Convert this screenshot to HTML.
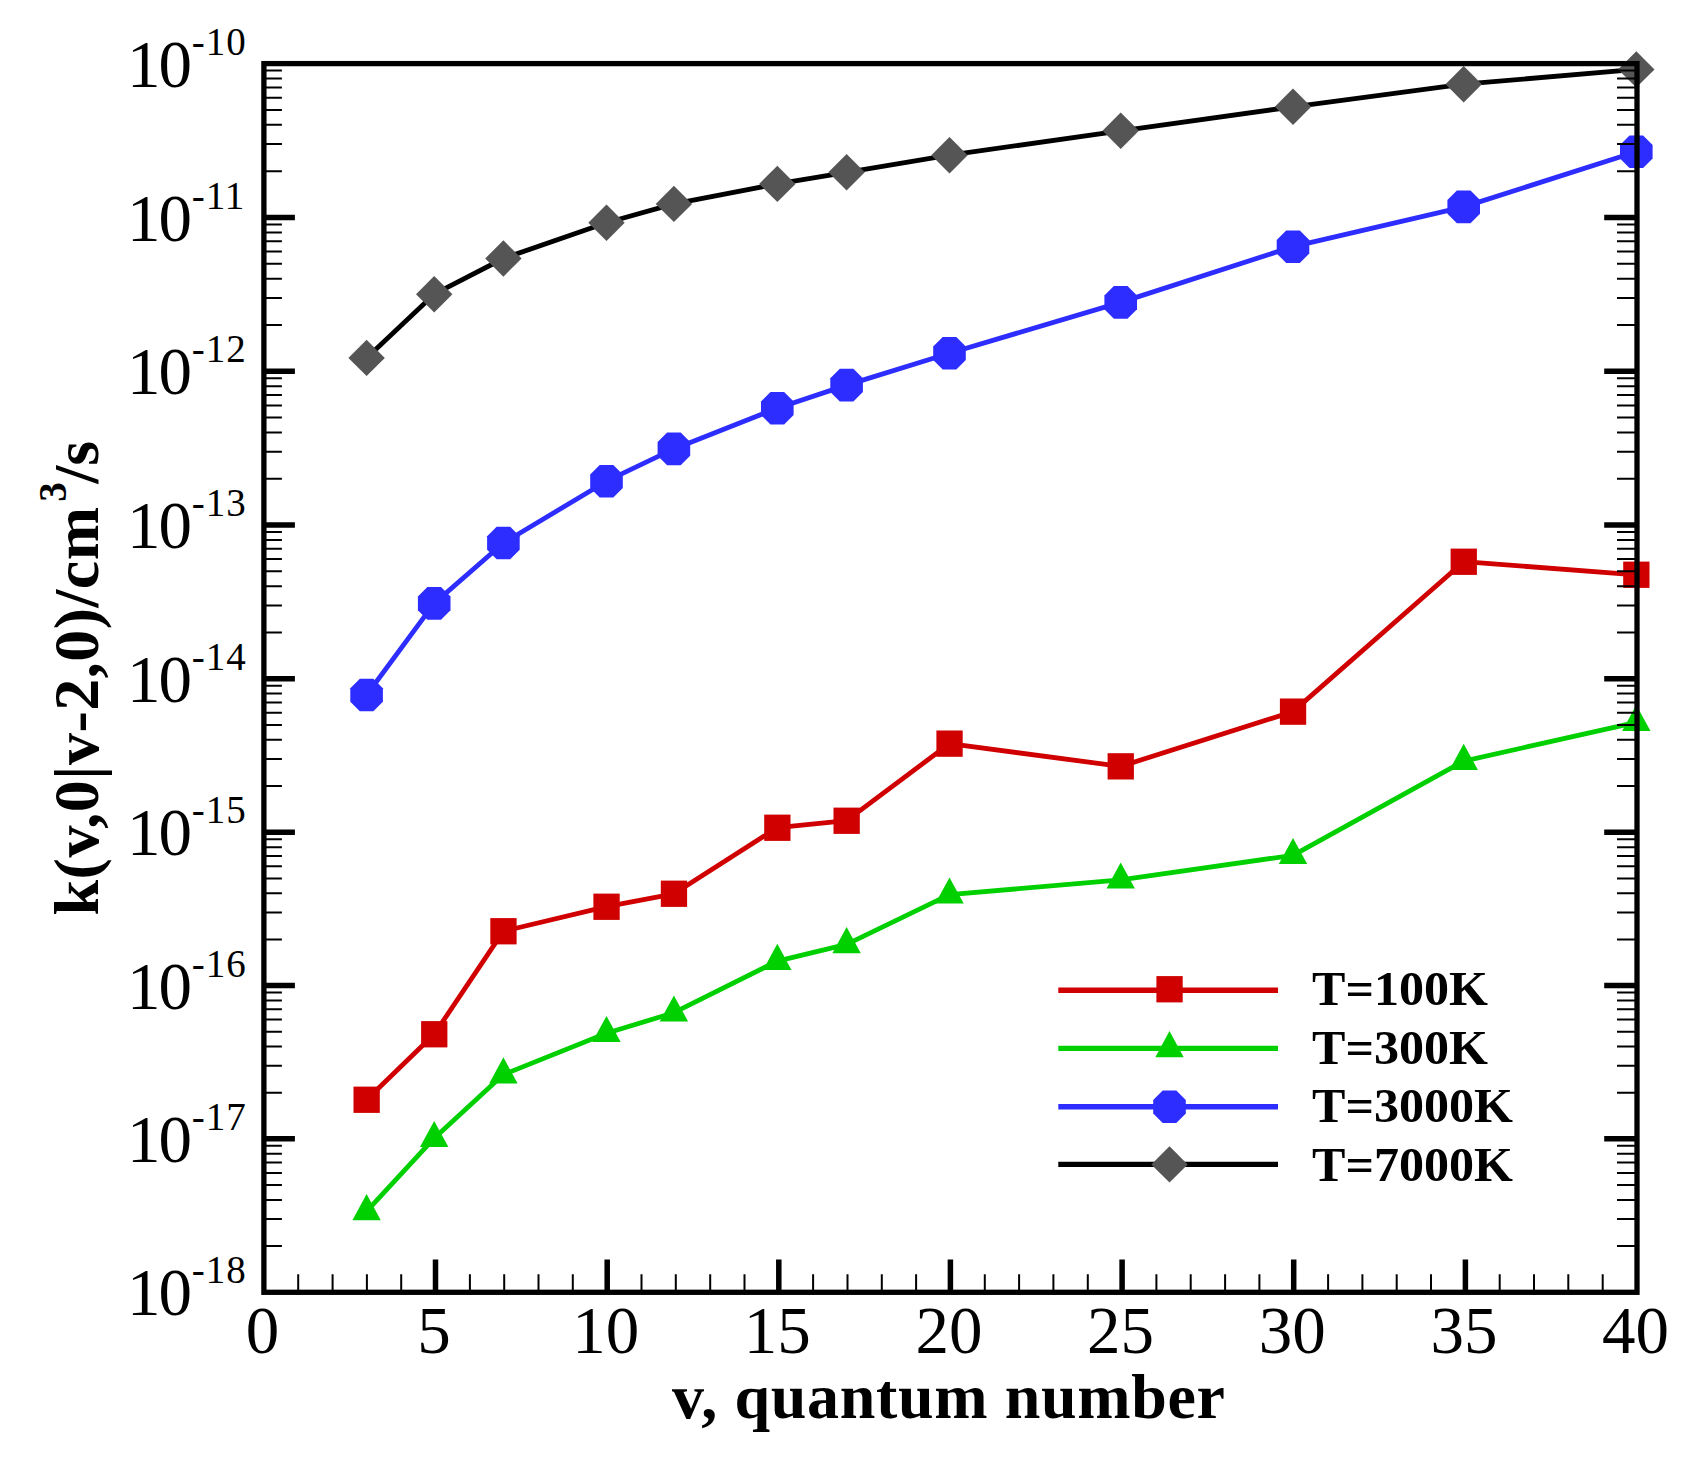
<!DOCTYPE html>
<html><head><meta charset="utf-8"><title>k(v,0|v-2,0) rate coefficients</title>
<style>html,body{margin:0;padding:0;background:#fff}svg{display:block}text{font-family:"Liberation Serif","Times New Roman",serif;fill:#000}.b{font-weight:bold}</style></head><body>
<svg width="1691" height="1473" viewBox="0 0 1691 1473">
<rect width="1691" height="1473" fill="#fff"/>
<g id="series" fill="none" stroke-linejoin="round">
<polyline points="366.6,1099.8 434.2,1034.3 503.4,931.2 606.5,906.7 673.9,893.8 777.3,827.7 846.6,820.7 949.5,743.6 1120.7,766.4 1293.0,711.6 1463.7,561.7 1636.3,574.8" stroke="#d00000" stroke-width="4.8"/>
<rect x="353.5" y="1086.6" width="26.3" height="26.3" fill="#d00000"/>
<rect x="421.1" y="1021.1" width="26.3" height="26.3" fill="#d00000"/>
<rect x="490.3" y="918.1" width="26.3" height="26.3" fill="#d00000"/>
<rect x="593.4" y="893.6" width="26.3" height="26.3" fill="#d00000"/>
<rect x="660.8" y="880.6" width="26.3" height="26.3" fill="#d00000"/>
<rect x="764.2" y="814.6" width="26.3" height="26.3" fill="#d00000"/>
<rect x="833.5" y="807.6" width="26.3" height="26.3" fill="#d00000"/>
<rect x="936.4" y="730.5" width="26.3" height="26.3" fill="#d00000"/>
<rect x="1107.6" y="753.2" width="26.3" height="26.3" fill="#d00000"/>
<rect x="1279.9" y="698.5" width="26.3" height="26.3" fill="#d00000"/>
<rect x="1450.6" y="548.6" width="26.3" height="26.3" fill="#d00000"/>
<rect x="1623.2" y="561.6" width="26.3" height="26.3" fill="#d00000"/>
<polyline points="366.6,1211.4 434.2,1138.2 503.4,1074.6 606.5,1033.3 673.9,1012.7 777.3,961.1 846.6,944.4 949.5,894.7 1120.7,879.8 1293.0,855.3 1463.7,761.1 1636.3,722.3" stroke="#00d000" stroke-width="4.8"/>
<polygon points="366.6,1194.1 380.8,1220.2 352.4,1220.2" fill="#00d000"/>
<polygon points="434.2,1120.9 448.4,1147.0 420.0,1147.0" fill="#00d000"/>
<polygon points="503.4,1057.3 517.6,1083.4 489.2,1083.4" fill="#00d000"/>
<polygon points="606.5,1016.0 620.7,1042.1 592.3,1042.1" fill="#00d000"/>
<polygon points="673.9,995.4 688.1,1021.5 659.7,1021.5" fill="#00d000"/>
<polygon points="777.3,943.8 791.5,969.9 763.1,969.9" fill="#00d000"/>
<polygon points="846.6,927.1 860.8,953.2 832.4,953.2" fill="#00d000"/>
<polygon points="949.5,877.4 963.7,903.5 935.3,903.5" fill="#00d000"/>
<polygon points="1120.7,862.5 1134.9,888.6 1106.5,888.6" fill="#00d000"/>
<polygon points="1293.0,838.0 1307.2,864.1 1278.8,864.1" fill="#00d000"/>
<polygon points="1463.7,743.8 1477.9,769.9 1449.5,769.9" fill="#00d000"/>
<polygon points="1636.3,705.0 1650.5,731.1 1622.1,731.1" fill="#00d000"/>
<polyline points="366.6,695.0 434.2,603.4 503.4,543.0 606.5,481.2 673.9,448.9 777.3,408.2 846.6,385.1 949.5,353.2 1120.7,302.4 1293.0,246.7 1463.7,206.9 1636.3,151.7" stroke="#2d2dff" stroke-width="4.8"/>
<polygon points="382.9,701.8 373.4,711.3 359.8,711.3 350.3,701.8 350.3,688.2 359.8,678.7 373.4,678.7 382.9,688.2" fill="#2d2dff"/>
<polygon points="450.5,610.2 441.0,619.7 427.4,619.7 417.9,610.2 417.9,596.6 427.4,587.1 441.0,587.1 450.5,596.6" fill="#2d2dff"/>
<polygon points="519.7,549.8 510.2,559.3 496.6,559.3 487.1,549.8 487.1,536.2 496.6,526.7 510.2,526.7 519.7,536.2" fill="#2d2dff"/>
<polygon points="622.8,488.0 613.3,497.5 599.7,497.5 590.2,488.0 590.2,474.4 599.7,464.9 613.3,464.9 622.8,474.4" fill="#2d2dff"/>
<polygon points="690.2,455.7 680.7,465.2 667.1,465.2 657.6,455.7 657.6,442.1 667.1,432.6 680.7,432.6 690.2,442.1" fill="#2d2dff"/>
<polygon points="793.6,415.0 784.1,424.5 770.5,424.5 761.0,415.0 761.0,401.4 770.5,391.9 784.1,391.9 793.6,401.4" fill="#2d2dff"/>
<polygon points="862.9,391.9 853.4,401.4 839.8,401.4 830.3,391.9 830.3,378.3 839.8,368.8 853.4,368.8 862.9,378.3" fill="#2d2dff"/>
<polygon points="965.8,360.0 956.3,369.5 942.7,369.5 933.2,360.0 933.2,346.4 942.7,336.9 956.3,336.9 965.8,346.4" fill="#2d2dff"/>
<polygon points="1137.0,309.2 1127.5,318.7 1113.9,318.7 1104.4,309.2 1104.4,295.6 1113.9,286.1 1127.5,286.1 1137.0,295.6" fill="#2d2dff"/>
<polygon points="1309.3,253.5 1299.8,263.0 1286.2,263.0 1276.7,253.5 1276.7,239.9 1286.2,230.4 1299.8,230.4 1309.3,239.9" fill="#2d2dff"/>
<polygon points="1480.0,213.7 1470.5,223.2 1456.9,223.2 1447.4,213.7 1447.4,200.1 1456.9,190.6 1470.5,190.6 1480.0,200.1" fill="#2d2dff"/>
<polygon points="1652.6,158.5 1643.1,168.0 1629.5,168.0 1620.0,158.5 1620.0,144.9 1629.5,135.4 1643.1,135.4 1652.6,144.9" fill="#2d2dff"/>
<polyline points="366.6,357.9 434.2,294.2 503.4,258.5 606.5,222.8 673.9,203.9 777.3,183.9 846.6,172.3 949.5,155.2 1120.7,130.8 1293.0,106.8 1463.7,84.2 1636.3,69.4" stroke="#000" stroke-width="4.8"/>
<polygon points="366.6,339.7 384.8,357.9 366.6,376.1 348.4,357.9" fill="#555555"/>
<polygon points="434.2,276.0 452.4,294.2 434.2,312.4 416.0,294.2" fill="#555555"/>
<polygon points="503.4,240.3 521.6,258.5 503.4,276.7 485.2,258.5" fill="#555555"/>
<polygon points="606.5,204.6 624.7,222.8 606.5,241.0 588.3,222.8" fill="#555555"/>
<polygon points="673.9,185.7 692.1,203.9 673.9,222.1 655.7,203.9" fill="#555555"/>
<polygon points="777.3,165.7 795.5,183.9 777.3,202.1 759.1,183.9" fill="#555555"/>
<polygon points="846.6,154.1 864.8,172.3 846.6,190.5 828.4,172.3" fill="#555555"/>
<polygon points="949.5,137.0 967.7,155.2 949.5,173.4 931.3,155.2" fill="#555555"/>
<polygon points="1120.7,112.6 1138.9,130.8 1120.7,149.0 1102.5,130.8" fill="#555555"/>
<polygon points="1293.0,88.6 1311.2,106.8 1293.0,125.0 1274.8,106.8" fill="#555555"/>
<polygon points="1463.7,66.0 1481.9,84.2 1463.7,102.4 1445.5,84.2" fill="#555555"/>
<polygon points="1636.3,51.2 1654.5,69.4 1636.3,87.6 1618.1,69.4" fill="#555555"/>
</g>
<g id="axes" stroke="#000" fill="none">
<rect x="263.9" y="63.6" width="1373.1" height="1228.7" stroke-width="5.3"/>
<path d="M263.9,217.5H294.9M1637.0,217.5H1604.2M263.9,371.3H294.9M1637.0,371.3H1604.2M263.9,525.0H294.9M1637.0,525.0H1604.2M263.9,678.7H294.9M1637.0,678.7H1604.2M263.9,832.3H294.9M1637.0,832.3H1604.2M263.9,985.6H294.9M1637.0,985.6H1604.2M263.9,1138.8H294.9M1637.0,1138.8H1604.2M435.5,1292.3V1259.5M607.2,1292.3V1259.5M778.8,1292.3V1259.5M950.4,1292.3V1259.5M1122.1,1292.3V1259.5M1293.7,1292.3V1259.5M1465.4,1292.3V1259.5" stroke-width="5.5"/>
<path d="M263.9,171.2H281.9M1637.0,171.2H1617.0M263.9,144.1H281.9M1637.0,144.1H1617.0M263.9,124.8H281.9M1637.0,124.8H1617.0M263.9,109.9H281.9M1637.0,109.9H1617.0M263.9,97.7H281.9M1637.0,97.7H1617.0M263.9,87.4H281.9M1637.0,87.4H1617.0M263.9,78.5H281.9M1637.0,78.5H1617.0M263.9,70.6H281.9M1637.0,70.6H1617.0M263.9,325.0H281.9M1637.0,325.0H1617.0M263.9,297.9H281.9M1637.0,297.9H1617.0M263.9,278.7H281.9M1637.0,278.7H1617.0M263.9,263.8H281.9M1637.0,263.8H1617.0M263.9,251.6H281.9M1637.0,251.6H1617.0M263.9,241.3H281.9M1637.0,241.3H1617.0M263.9,232.4H281.9M1637.0,232.4H1617.0M263.9,224.5H281.9M1637.0,224.5H1617.0M263.9,478.7H281.9M1637.0,478.7H1617.0M263.9,451.7H281.9M1637.0,451.7H1617.0M263.9,432.5H281.9M1637.0,432.5H1617.0M263.9,417.6H281.9M1637.0,417.6H1617.0M263.9,405.4H281.9M1637.0,405.4H1617.0M263.9,395.1H281.9M1637.0,395.1H1617.0M263.9,386.2H281.9M1637.0,386.2H1617.0M263.9,378.3H281.9M1637.0,378.3H1617.0M263.9,632.4H281.9M1637.0,632.4H1617.0M263.9,605.4H281.9M1637.0,605.4H1617.0M263.9,586.2H281.9M1637.0,586.2H1617.0M263.9,571.3H281.9M1637.0,571.3H1617.0M263.9,559.1H281.9M1637.0,559.1H1617.0M263.9,548.8H281.9M1637.0,548.8H1617.0M263.9,539.9H281.9M1637.0,539.9H1617.0M263.9,532.0H281.9M1637.0,532.0H1617.0M263.9,786.1H281.9M1637.0,786.1H1617.0M263.9,759.0H281.9M1637.0,759.0H1617.0M263.9,739.8H281.9M1637.0,739.8H1617.0M263.9,724.9H281.9M1637.0,724.9H1617.0M263.9,712.8H281.9M1637.0,712.8H1617.0M263.9,702.5H281.9M1637.0,702.5H1617.0M263.9,693.6H281.9M1637.0,693.6H1617.0M263.9,685.7H281.9M1637.0,685.7H1617.0M263.9,939.5H281.9M1637.0,939.5H1617.0M263.9,912.5H281.9M1637.0,912.5H1617.0M263.9,893.3H281.9M1637.0,893.3H1617.0M263.9,878.4H281.9M1637.0,878.4H1617.0M263.9,866.3H281.9M1637.0,866.3H1617.0M263.9,856.0H281.9M1637.0,856.0H1617.0M263.9,847.2H281.9M1637.0,847.2H1617.0M263.9,839.3H281.9M1637.0,839.3H1617.0M263.9,1092.7H281.9M1637.0,1092.7H1617.0M263.9,1065.7H281.9M1637.0,1065.7H1617.0M263.9,1046.6H281.9M1637.0,1046.6H1617.0M263.9,1031.7H281.9M1637.0,1031.7H1617.0M263.9,1019.6H281.9M1637.0,1019.6H1617.0M263.9,1009.3H281.9M1637.0,1009.3H1617.0M263.9,1000.4H281.9M1637.0,1000.4H1617.0M263.9,992.6H281.9M1637.0,992.6H1617.0M263.9,1246.1H281.9M1637.0,1246.1H1617.0M263.9,1219.1H281.9M1637.0,1219.1H1617.0M263.9,1199.9H281.9M1637.0,1199.9H1617.0M263.9,1185.0H281.9M1637.0,1185.0H1617.0M263.9,1172.9H281.9M1637.0,1172.9H1617.0M263.9,1162.6H281.9M1637.0,1162.6H1617.0M263.9,1153.7H281.9M1637.0,1153.7H1617.0M263.9,1145.8H281.9M1637.0,1145.8H1617.0M298.2,1292.3V1274.3M332.6,1292.3V1274.3M366.9,1292.3V1274.3M401.2,1292.3V1274.3M469.9,1292.3V1274.3M504.2,1292.3V1274.3M538.5,1292.3V1274.3M572.8,1292.3V1274.3M641.5,1292.3V1274.3M675.8,1292.3V1274.3M710.2,1292.3V1274.3M744.5,1292.3V1274.3M813.1,1292.3V1274.3M847.5,1292.3V1274.3M881.8,1292.3V1274.3M916.1,1292.3V1274.3M984.8,1292.3V1274.3M1019.1,1292.3V1274.3M1053.4,1292.3V1274.3M1087.8,1292.3V1274.3M1156.4,1292.3V1274.3M1190.7,1292.3V1274.3M1225.1,1292.3V1274.3M1259.4,1292.3V1274.3M1328.1,1292.3V1274.3M1362.4,1292.3V1274.3M1396.7,1292.3V1274.3M1431.0,1292.3V1274.3M1499.7,1292.3V1274.3M1534.0,1292.3V1274.3M1568.3,1292.3V1274.3M1602.7,1292.3V1274.3" stroke-width="2"/>
</g>
<g id="ylabels">
<text x="192.1" y="86.6" font-size="67" text-anchor="end" dx="0 -2">10</text><text x="191.8" y="54.6" font-size="39" letter-spacing="1">-10</text>
<text x="192.1" y="240.5" font-size="67" text-anchor="end" dx="0 -2">10</text><text x="191.8" y="208.5" font-size="39" letter-spacing="1">-11</text>
<text x="192.1" y="394.3" font-size="67" text-anchor="end" dx="0 -2">10</text><text x="191.8" y="362.3" font-size="39" letter-spacing="1">-12</text>
<text x="192.1" y="548.0" font-size="67" text-anchor="end" dx="0 -2">10</text><text x="191.8" y="516.0" font-size="39" letter-spacing="1">-13</text>
<text x="192.1" y="701.7" font-size="67" text-anchor="end" dx="0 -2">10</text><text x="191.8" y="669.7" font-size="39" letter-spacing="1">-14</text>
<text x="192.1" y="855.3" font-size="67" text-anchor="end" dx="0 -2">10</text><text x="191.8" y="823.3" font-size="39" letter-spacing="1">-15</text>
<text x="192.1" y="1008.6" font-size="67" text-anchor="end" dx="0 -2">10</text><text x="191.8" y="976.6" font-size="39" letter-spacing="1">-16</text>
<text x="192.1" y="1161.8" font-size="67" text-anchor="end" dx="0 -2">10</text><text x="191.8" y="1129.8" font-size="39" letter-spacing="1">-17</text>
<text x="192.1" y="1315.3" font-size="67" text-anchor="end" dx="0 -2">10</text><text x="191.8" y="1283.3" font-size="39" letter-spacing="1">-18</text>
</g>
<g id="xlabels" text-anchor="middle">
<text x="262.4" y="1353" font-size="67">0</text>
<text x="434.0" y="1353" font-size="67">5</text>
<text x="605.7" y="1353" font-size="67">10</text>
<text x="777.3" y="1353" font-size="67">15</text>
<text x="948.9" y="1353" font-size="67">20</text>
<text x="1120.6" y="1353" font-size="67">25</text>
<text x="1292.2" y="1353" font-size="67">30</text>
<text x="1463.9" y="1353" font-size="67">35</text>
<text x="1635.5" y="1353" font-size="67">40</text>
</g>
<text class="b" x="672" y="1418" font-size="64" textLength="553" lengthAdjust="spacing">v, quantum number</text>
<g transform="translate(97.9,915.5) rotate(-90)">
<text class="b" x="0" y="0" font-size="64" textLength="408.5" lengthAdjust="spacing">k(v,0|v-2,0)/cm</text>
<text class="b" x="413.7" y="-32.2" font-size="39">3</text>
<text class="b" x="432" y="0" font-size="64">/s</text>
</g>
<g id="legend">
<line x1="1058.3" y1="990.3" x2="1278" y2="990.3" stroke="#d00000" stroke-width="5.4"/>
<rect x="1156.4" y="976.1" width="26.3" height="26.3" fill="#d00000"/>
<text class="b" x="1312" y="1004.7" font-size="49" textLength="176" lengthAdjust="spacingAndGlyphs">T=100K</text>
<line x1="1058.3" y1="1048.4" x2="1278" y2="1048.4" stroke="#00d000" stroke-width="5.4"/>
<polygon points="1169.5,1031.1 1183.7,1057.2 1155.3,1057.2" fill="#00d000"/>
<text class="b" x="1312" y="1063.8" font-size="49" textLength="176" lengthAdjust="spacingAndGlyphs">T=300K</text>
<line x1="1058.3" y1="1106.7" x2="1278" y2="1106.7" stroke="#2d2dff" stroke-width="5.4"/>
<polygon points="1185.8,1113.5 1176.3,1123.0 1162.7,1123.0 1153.2,1113.5 1153.2,1099.9 1162.7,1090.4 1176.3,1090.4 1185.8,1099.9" fill="#2d2dff"/>
<text class="b" x="1312" y="1122.4" font-size="49" textLength="201" lengthAdjust="spacingAndGlyphs">T=3000K</text>
<line x1="1058.3" y1="1164.4" x2="1278" y2="1164.4" stroke="#000" stroke-width="5.4"/>
<polygon points="1169.5,1146.2 1187.7,1164.4 1169.5,1182.6 1151.3,1164.4" fill="#555555"/>
<text class="b" x="1312" y="1180.6" font-size="49" textLength="201" lengthAdjust="spacingAndGlyphs">T=7000K</text>
</g>
</svg></body></html>
